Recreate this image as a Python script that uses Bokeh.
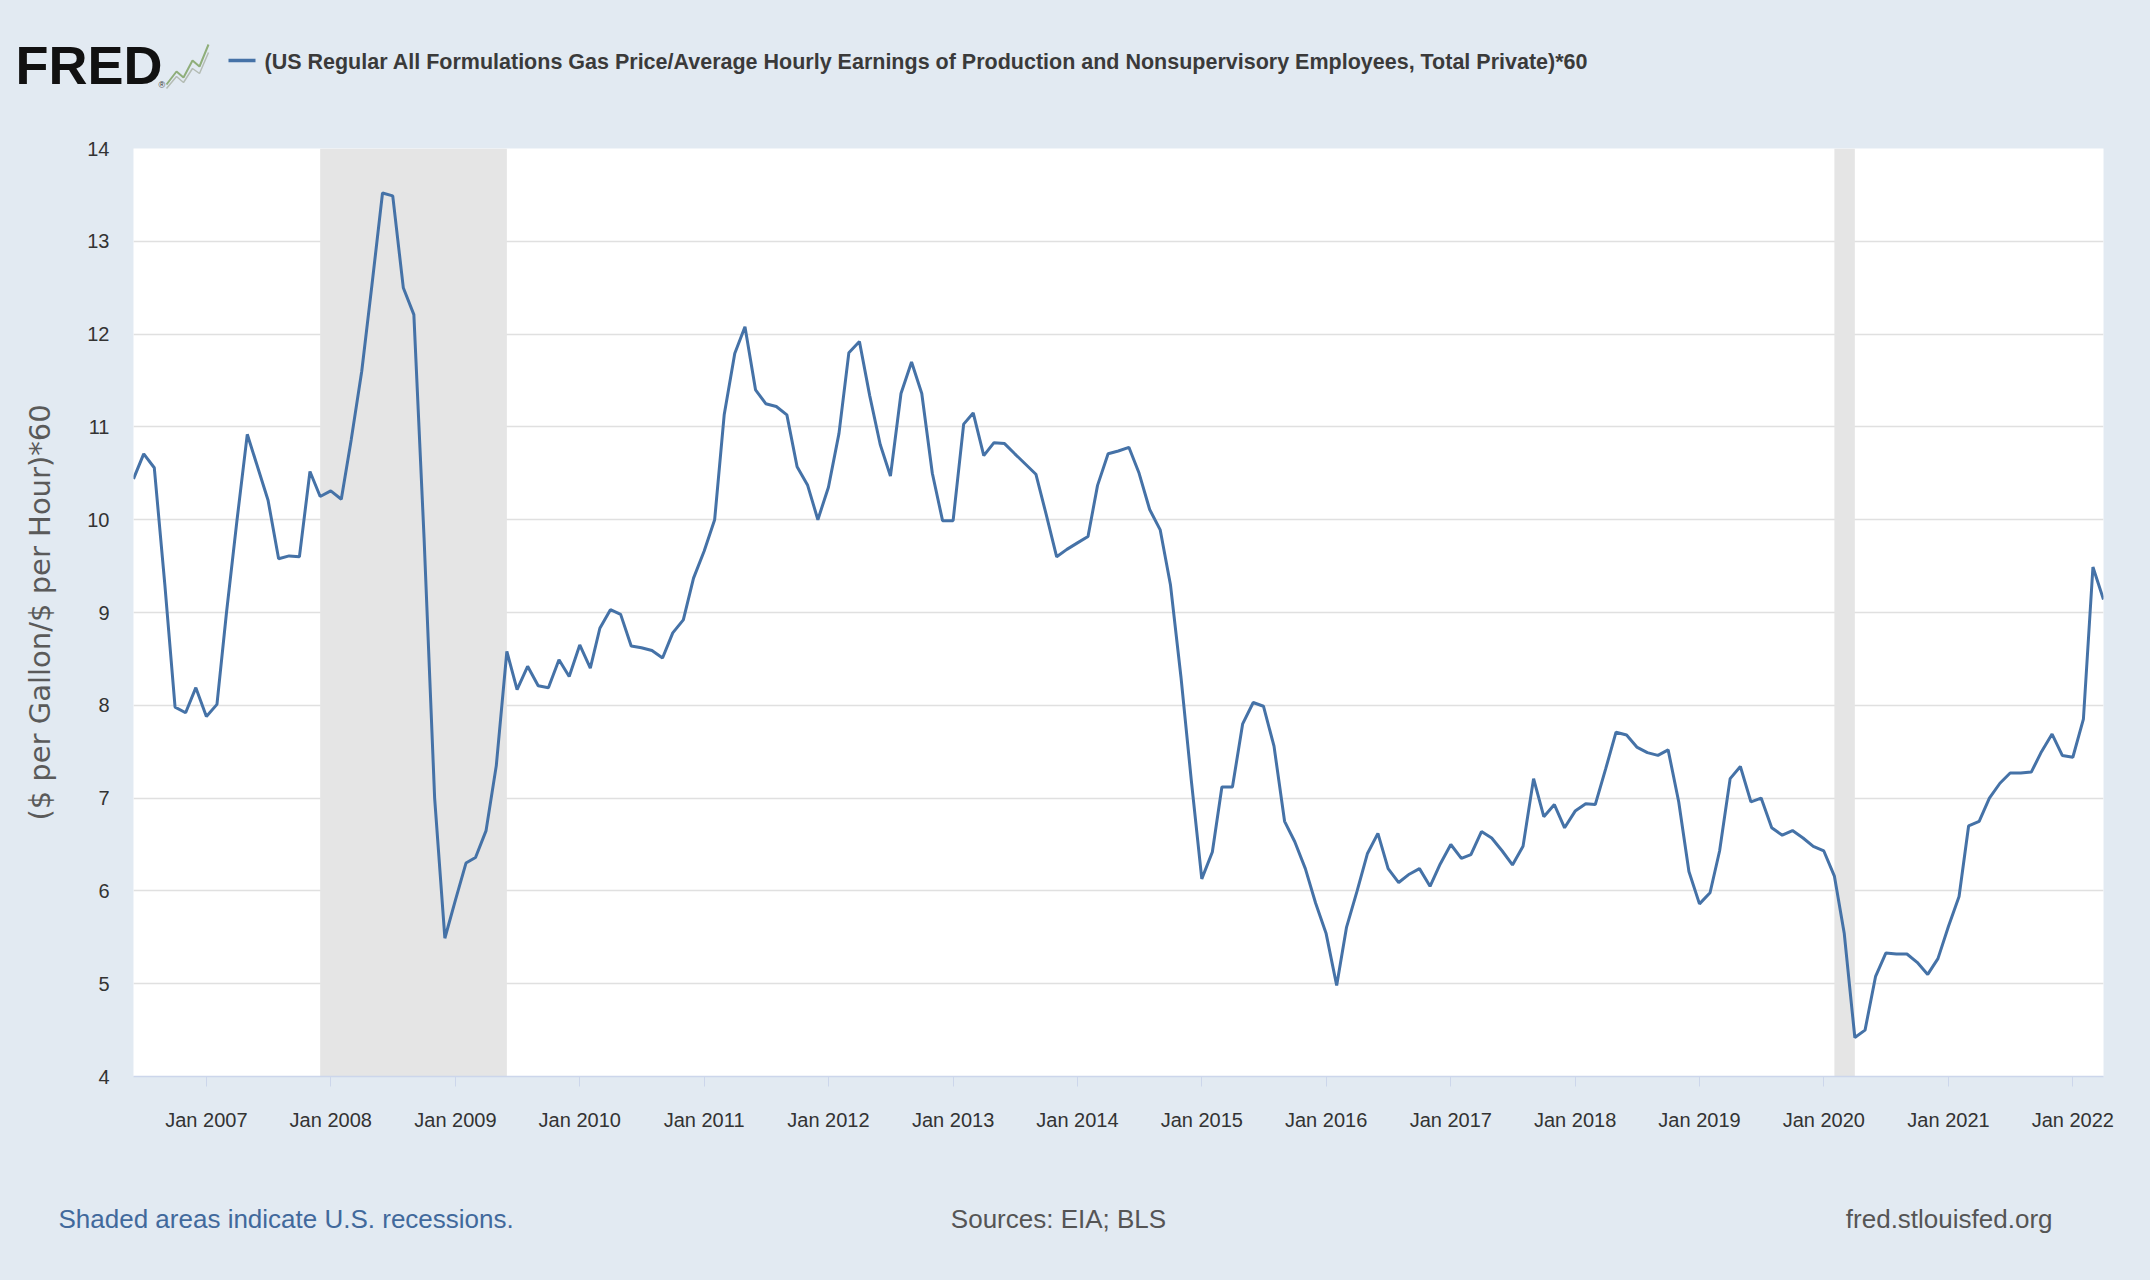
import pandas as pd
from bokeh.plotting import figure
from bokeh.layouts import column
from bokeh.models import Range1d, FixedTicker, DatetimeTickFormatter
from bokeh.core.properties import value
from bokeh.embed import file_html
from bokeh.resources import INLINE

# ---------------- data ----------------
start_month = "2006-06-01"
ratio = [
    10.44, 10.71, 10.56, 9.30, 7.98, 7.92, 8.19, 7.88, 8.01, 9.00, 10.00, 10.92,   # 2006-06 .. 2007-05
    10.56, 10.21, 9.58, 9.61, 9.60, 10.52, 10.25, 10.31, 10.22, 10.86, 11.60, 12.53,  # .. 2008-05
    13.52, 13.49, 12.50, 12.21, 9.80, 7.00, 5.49, 5.90, 6.30, 6.36, 6.65, 7.35,       # .. 2009-05
    8.58, 8.17, 8.42, 8.21, 8.19, 8.49, 8.31, 8.65, 8.40, 8.83, 9.03, 8.98,           # .. 2010-05
    8.64, 8.62, 8.59, 8.51, 8.78, 8.92, 9.37, 9.66, 10.00, 11.13, 11.79, 12.08,       # .. 2011-05
    11.40, 11.25, 11.22, 11.13, 10.57, 10.37, 10.00, 10.35, 10.93, 11.80, 11.92, 11.34,  # .. 2012-05
    10.81, 10.47, 11.36, 11.70, 11.36, 10.50, 9.99, 9.99, 11.03, 11.15, 10.69, 10.83,  # .. 2013-05
    10.82, 10.71, 10.60, 10.49, 10.06, 9.60, 9.68, 9.75, 9.82, 10.37, 10.71, 10.74,   # .. 2014-05
    10.78, 10.50, 10.11, 9.89, 9.30, 8.30, 7.20, 6.13, 6.42, 7.12, 7.12, 7.80,        # .. 2015-05
    8.03, 7.99, 7.56, 6.75, 6.53, 6.24, 5.87, 5.54, 4.98, 5.61, 6.00, 6.40,           # .. 2016-05
    6.62, 6.24, 6.09, 6.18, 6.24, 6.05, 6.29, 6.50, 6.35, 6.39, 6.64, 6.57,           # .. 2017-05
    6.43, 6.28, 6.48, 7.21, 6.80, 6.93, 6.68, 6.86, 6.94, 6.93, 7.32, 7.71,           # .. 2018-05
    7.68, 7.55, 7.49, 7.46, 7.52, 6.96, 6.21, 5.86, 5.98, 6.43, 7.21, 7.34,           # .. 2019-05
    6.96, 7.00, 6.68, 6.60, 6.65, 6.57, 6.48, 6.43, 6.16, 5.54, 4.42, 4.50,           # .. 2020-05
    5.08, 5.33, 5.32, 5.32, 5.23, 5.10, 5.27, 5.62, 5.94, 6.70, 6.75, 7.00,           # .. 2021-05
    7.16, 7.27, 7.27, 7.28, 7.50, 7.69, 7.46, 7.44, 7.85, 9.49, 9.14,                 # .. 2022-04
]
months = pd.date_range(start_month, periods=len(ratio), freq="MS")

recession_start = ["2007-12-01", "2020-02-01"]
recession_end = ["2009-06-01", "2020-04-01"]

tick_years = list(range(2007, 2023))
y_ticks = list(range(4, 15))

title_text = ("(US Regular All Formulations Gas Price/Average Hourly Earnings of "
              "Production and Nonsupervisory Employees, Total Private)*60")
y_label = "($ per Gallon/$ per Hour)*60"
note_left = "Shaded areas indicate U.S. recessions."
note_mid = "Sources: EIA; BLS"
note_right = "fred.stlouisfed.org"

# ---------------- style ----------------
SANS = "Liberation Sans"
BG = "#e2eaf2"
LINE_BLUE = "#4572a7"
W = 2150
HEAD_H, MAIN_H, FOOT_H = 110, 1050, 120

# ---------------- main chart ----------------
p = figure(width=W, height=MAIN_H, x_axis_type="datetime",
           output_backend="svg", toolbar_location=None,
           x_range=Range1d(months[0], months[-1]), y_range=Range1d(4, 14),
           min_border_left=133, min_border_right=W - 2103,
           min_border_top=38, min_border_bottom=84)
p.frame_align = False

p.background_fill_color = "white"
p.border_fill_color = BG
p.outline_line_color = None

# recession shading
p.quad(left=pd.to_datetime(recession_start), right=pd.to_datetime(recession_end),
       bottom=y_ticks[0], top=y_ticks[-1], fill_color="#e5e5e5", line_color=None)

# data line
p.line(months, ratio, line_color=LINE_BLUE, line_width=3)

# grid
p.xgrid.visible = False
p.ygrid.ticker = FixedTicker(ticks=y_ticks)
p.ygrid.grid_line_color = "#e0e0e0"
p.ygrid.grid_line_width = 1.5

# y axis
p.yaxis.ticker = FixedTicker(ticks=y_ticks)
p.yaxis.axis_line_color = None
p.yaxis.major_tick_line_color = None
p.yaxis.minor_tick_line_color = None
p.yaxis.major_label_standoff = 18
p.yaxis.major_label_text_font = SANS
p.yaxis.major_label_text_font_size = "20px"
p.yaxis.major_label_text_color = "#333333"
p.yaxis.axis_label = y_label
p.yaxis.axis_label_text_font = "DejaVu Sans"
p.yaxis.axis_label_text_font_style = "normal"
p.yaxis.axis_label_text_font_size = "29px"
p.yaxis.axis_label_text_color = "#5a5a5a"
p.yaxis.axis_label_standoff = 27

# x axis
p.xaxis.ticker = FixedTicker(ticks=[pd.Timestamp(f"{y}-01-01").timestamp() * 1000 for y in tick_years])
p.xaxis.formatter = DatetimeTickFormatter(years="%b %Y", months="%b %Y", days="%b %Y",
                                          hours="%b %Y", context=None)
p.xaxis.axis_line_color = "#ccd6eb"
p.xaxis.axis_line_width = 1.5
p.xaxis.major_tick_line_color = "#ccd6eb"
p.xaxis.major_tick_out = 10
p.xaxis.major_tick_in = 0
p.xaxis.minor_tick_line_color = None
p.xaxis.major_label_standoff = 22
p.xaxis.major_label_text_font = SANS
p.xaxis.major_label_text_font_size = "20px"
p.xaxis.major_label_text_color = "#333333"


def blank(height):
    f = figure(width=W, height=height, output_backend="svg", toolbar_location=None,
               x_range=Range1d(0, W), y_range=Range1d(0, height),
               x_axis_location=None, y_axis_location=None,
               min_border=0, min_border_left=0, min_border_right=0,
               min_border_top=0, min_border_bottom=0)
    f.frame_align = False
    f.grid.visible = False
    f.outline_line_color = None
    f.background_fill_alpha = 0
    f.border_fill_color = BG
    return f


# ---------------- header ----------------
head = blank(HEAD_H)


def hy(page_y):
    return HEAD_H - page_y


head.text(x=[15], y=[hy(64)], text=["FRED"], text_font=value(SANS),
          text_font_style="bold", text_font_size="54px", text_color="#111111",
          text_baseline="middle")
head.text(x=[158], y=[hy(84)], text=["\u00ae"], text_font=value(SANS),
          text_font_size="9px", text_color="#333333", text_baseline="middle")
# small chart icon beside the logo
icon_x = [166, 176, 183, 192, 199, 208]
head.line(icon_x, [hy(v) for v in [88, 76, 82, 68, 73, 52]], line_color="#b4bcb4", line_width=1.5)
head.line(icon_x, [hy(v) for v in [84, 71, 77, 60, 66, 44]], line_color="#8fae7a", line_width=2)
# legend swatch and series title
head.line([228, 255], [hy(60), hy(60)], line_color=LINE_BLUE, line_width=3.5)
head.text(x=[264], y=[hy(61)], text=[title_text], text_font=value(SANS),
          text_font_style="bold", text_font_size="21.5px", text_color="#3a3a3a",
          text_baseline="middle")

# ---------------- footer ----------------
foot = blank(FOOT_H)


def fy(page_y):
    return FOOT_H - (page_y - HEAD_H - MAIN_H)


foot.text(x=[58], y=[fy(1218)], text=[note_left], text_font=value(SANS),
          text_font_size="26px", text_color="#41699c", text_baseline="middle")
foot.text(x=[1058], y=[fy(1218)], text=[note_mid], text_font=value(SANS),
          text_font_size="26px", text_color="#555555", text_baseline="middle",
          text_align="center")
foot.text(x=[2052], y=[fy(1218)], text=[note_right], text_font=value(SANS),
          text_font_size="26px", text_color="#555555", text_baseline="middle",
          text_align="right")

layout = column(head, p, foot, spacing=0)
layout.styles = {"background-color": BG}
open("out.html", "w").write(file_html(layout, INLINE))
